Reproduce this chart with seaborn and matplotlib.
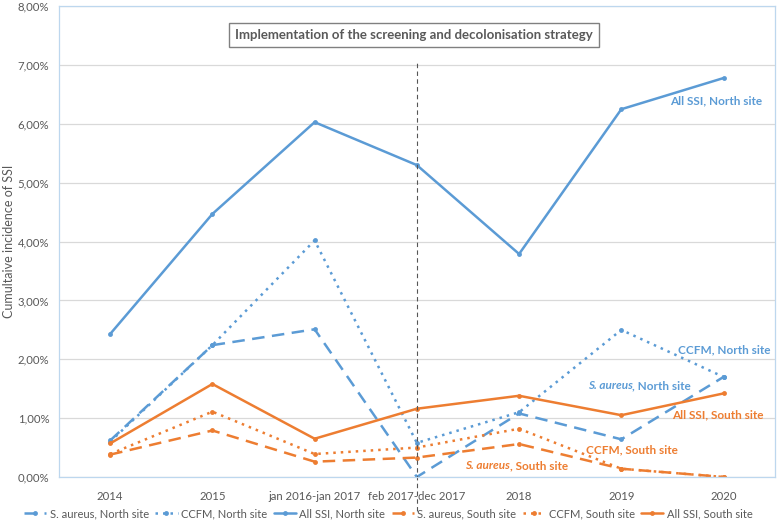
import matplotlib
matplotlib.use("Agg")
import matplotlib.pyplot as plt
import seaborn as sns
import pandas as pd
from matplotlib.ticker import FuncFormatter

periods = ["2014", "2015", "jan 2016-jan 2017", "feb 2017-dec 2017", "2018", "2019", "2020"]

sa_north = [0.62, 2.24, 2.51, 0.00, 1.08, 0.64, 1.70]
ccfm_north = [0.60, 2.24, 4.02, 0.58, 1.10, 2.50, 1.70]
all_north = [2.43, 4.47, 6.03, 5.30, 3.79, 6.25, 6.78]
sa_south = [0.38, 0.79, 0.26, 0.33, 0.56, 0.14, 0.00]
ccfm_south = [0.39, 1.11, 0.39, 0.50, 0.82, 0.14, 0.00]
all_south = [0.57, 1.58, 0.65, 1.16, 1.38, 1.05, 1.42]

series_names = ["S. aureus, North site", "CCFM, North site", "All SSI, North site",
                "S. aureus, South site", "CCFM, South site", "All SSI, South site"]
series_values = [sa_north, ccfm_north, all_north, sa_south, ccfm_south, all_south]

blue = "#5B9BD5"
orange = "#ED7D31"
grey = "#595959"
colors = [blue, blue, blue, orange, orange, orange]
styles = [(0, (5, 3)), (0, (1, 2)), "-", (0, (5, 3)), (0, (1, 2)), "-"]

sns.set_style("white")
plt.rcParams["font.family"] = ["Lato", "DejaVu Sans"]

fig = plt.figure(figsize=(7.77, 5.21), dpi=100)
ax = fig.add_axes([0.076, 0.0845, 0.921, 0.9035])

for name, vals, col, ls in zip(series_names, series_values, colors, styles):
    df = pd.DataFrame({"Period": periods, "Incidence": vals})
    sns.lineplot(data=df, x="Period", y="Incidence", sort=False, ax=ax, color=col,
                 linestyle=ls, linewidth=1.8, marker="o", markersize=3.5,
                 markeredgewidth=0, label=name)

ax.set_ylim(0, 8)
ax.set_xlim(-0.5, len(periods) - 0.5)
ax.set_yticks(range(0, 9))
ax.yaxis.set_major_formatter(FuncFormatter(lambda v, p: f"{v:.2f}%".replace(".", ",")))
ax.grid(axis="y", color="#D9D9D9", linewidth=0.9)
ax.set_axisbelow(True)
for s in ax.spines.values():
    s.set_color("#BDD7EE")
    s.set_linewidth(0.9)
ax.tick_params(axis="both", length=0, labelsize=8.2, colors=grey)
ax.tick_params(axis="x", pad=10)
ax.tick_params(axis="y", pad=7)
ax.set_xlabel("")
ax.set_ylabel("Cumultaive incidence of SSI", fontsize=9, color=grey)
ax.yaxis.set_label_coords(-0.062, 0.5)

# start of strategy
ax.axvline(3, ymin=-0.072, ymax=0.88, color="#555555", linestyle=(0, (4, 3)),
           linewidth=0.8, clip_on=False)
ax.text(2.97, 7.51, "Implementation of the screening and decolonisation strategy",
        ha="center", va="center", fontsize=9.5, fontweight="bold", color=grey,
        bbox=dict(boxstyle="square,pad=0.45", fc="white", ec="#808080", lw=1))


def label(x, y, parts, color):
    # parts: list of (text, italic)
    prev = None
    for txt, it in parts:
        style = "italic" if it else "normal"
        if prev is None:
            prev = ax.text(x, y, txt, color=color, fontsize=8.5, fontweight="bold",
                           style=style, va="center", ha="left")
        else:
            prev = ax.annotate(txt, xy=(1, 0), xycoords=prev, va="bottom", ha="left",
                               color=color, fontsize=8.5, fontweight="bold", style=style)


label(5.48, 6.40, [("All SSI, North site", False)], blue)
label(5.55, 2.16, [("CCFM, North site", False)], blue)
label(4.67, 1.55, [("S. aureus", True), (", North site", False)], blue)
label(5.50, 1.06, [("All SSI, South site", False)], orange)
label(4.65, 0.46, [("CCFM, South site", False)], orange)
label(3.47, 0.19, [("S. aureus", True), (", South site", False)], orange)

ax.legend(loc="center", bbox_to_anchor=(0.46, -0.078), ncol=6, frameon=False,
          fontsize=8, handlelength=2.0, handletextpad=0.3, columnspacing=0.6,
          labelcolor=grey)

plt.savefig("out.png", dpi=100)
